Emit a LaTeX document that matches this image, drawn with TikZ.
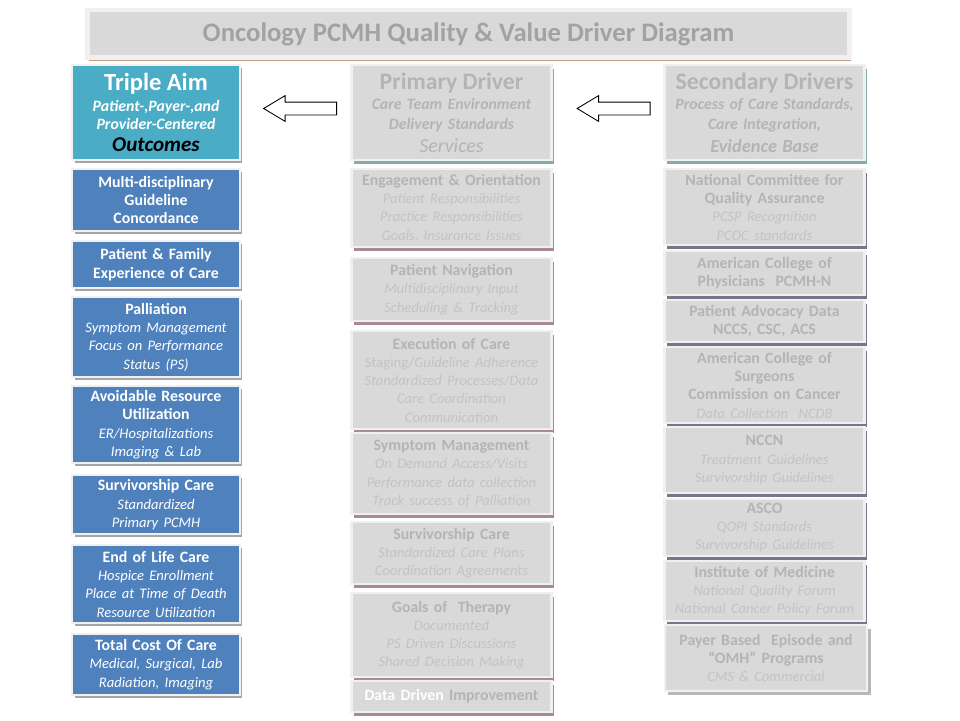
\documentclass[tikz,border=0pt]{standalone}
\usepackage{fontspec}
\setmainfont{Carlito}
\usetikzlibrary{shapes.arrows,shadows}
\definecolor{aimteal}{HTML}{4BACC6}
\definecolor{aimblue}{HTML}{4F81BD}
\definecolor{boxgrey}{HTML}{D9D9D9}
\definecolor{framegrey}{HTML}{F0F0F0}
\definecolor{txtgrey}{HTML}{B4B4B4}
\definecolor{txtlight}{HTML}{C3C3C3}
\definecolor{shgrey}{HTML}{A6A6A6}
\definecolor{shteal}{HTML}{86ABAB}
\definecolor{shrose}{HTML}{A88A90}
\definecolor{shslate}{HTML}{76768A}
\definecolor{shbrown}{HTML}{C49C84}
\newcommand{\itl}[1]{{\fontsize{8.3}{10.4}\selectfont\mdseries\itshape #1}}
\newcommand{\itg}[1]{{\fontsize{8.3}{10.4}\selectfont\mdseries\itshape\color{txtlight}#1}}

\begin{document}
\begin{tikzpicture}[x=0.02cm, y=-0.02cm,
  box/.style={draw=framegrey, line width=1.3pt, anchor=north, align=center, inner sep=1pt,
    font=\fontsize{9}{10.4}\selectfont\bfseries},
  outbox/.style={box, fill=aimblue, text=white, minimum width=3.35cm, text width=3.25cm,
    drop shadow={fill=shgrey, opacity=1, shadow xshift=0.05cm, shadow yshift=-0.06cm}},
  aimbox/.style={outbox, fill=aimteal},
  greybox/.style={box, fill=boxgrey, text=txtgrey, minimum width=4.0cm, text width=3.9cm},
  headbox/.style={greybox, minimum height=1.9cm,
    drop shadow={fill=shteal, opacity=1, shadow xshift=0.05cm, shadow yshift=-0.07cm}},
  drvbox/.style={greybox,
    drop shadow={fill=shrose, opacity=1, shadow xshift=0.05cm, shadow yshift=-0.07cm}},
  srcbox/.style={greybox,
    drop shadow={fill=shslate, opacity=1, shadow xshift=0.05cm, shadow yshift=-0.07cm}},
  blockarrow/.style={single arrow, draw=black, fill=white, line width=0.5pt, inner sep=0pt,
    shape border rotate=180, minimum height=1.46cm,
    single arrow head extend=0.13cm, single arrow tip angle=62}]
  \useasboundingbox (0,0) rectangle (960,720);
  % ------------------------------------------------------------------ title
  \node[box, fill=boxgrey, text=txtgrey!90!black, line width=2.5pt, minimum width=15.25cm, minimum height=0.95cm,
    font=\fontsize{15.2}{18}\selectfont\bfseries,
    drop shadow={fill=shbrown, opacity=1, shadow xshift=0.03cm, shadow yshift=-0.07cm}]
    (title) at (468.5,8) {Oncology PCMH Quality \& Value Driver Diagram};
  % ------------------------------------------------------------------ outcomes
  \node[aimbox, minimum height=1.9cm] (aim) at (156,64)
    {{\fontsize{14}{16}\selectfont Triple Aim}\\[1.5pt] \textit{Patient-,Payer-,and}\\ \textit{Provider-Centered}\\[2pt]
     {\fontsize{12}{13}\selectfont\itshape\color{black}Outcomes}};
  \node[outbox, minimum height=1.24cm] (mdg) at (156,168) {Multi-disciplinary\\Guideline\\Concordance};
  \node[outbox, minimum height=0.94cm] (pfe) at (156,240) {Patient \& Family\\Experience of Care};
  \node[outbox, minimum height=1.60cm] (pal) at (156,296)
    {Palliation\\\itl{Symptom Management}\\\itl{Focus on Performance}\\\itl{Status (PS)}};
  \node[outbox, minimum height=1.54cm] (aru) at (156,385)
    {Avoidable Resource\\Utilization\\\itl{ER/Hospitalizations}\\\itl{Imaging \& Lab}};
  \node[outbox, minimum height=1.18cm] (svc) at (156,474)
    {Survivorship Care\\\itl{Standardized}\\\itl{Primary PCMH}};
  \node[outbox, minimum height=1.56cm] (eol) at (156,544)
    {End of Life Care\\\itl{Hospice Enrollment}\\\itl{Place at Time of Death}\\\itl{Resource Utilization}};
  \node[outbox, minimum height=1.22cm] (tcc) at (156,633)
    {Total Cost Of Care\\\itl{Medical, Surgical, Lab}\\\itl{Radiation, Imaging}};
  % ------------------------------------------------------------------ primary drivers
  \node[headbox] (pd) at (451.5,64)
    {{\fontsize{13.5}{16}\selectfont Primary Driver}\\[1pt] \textit{Care Team Environment}\\[1pt] \textit{Delivery Standards}\\[2.5pt]
     {\fontsize{11.3}{13}\selectfont\mdseries\itshape Services}};
  \node[drvbox, minimum height=1.56cm] (eng) at (451.5,168)
    {Engagement \& Orientation\\\itg{Patient Responsibilities}\\\itg{Practice Responsibilities}\\\itg{Goals, Insurance Issues}};
  \node[drvbox, minimum height=1.26cm] (nav) at (451.5,257)
    {Patient Navigation\\\itg{Multidisciplinary Input}\\\itg{Scheduling \& Tracking}};
  \node[drvbox, minimum height=1.96cm] (exe) at (451.5,330)
    {Execution of Care\\\itg{{\upshape Staging/}Guideline Adherence}\\\itg{Standardized Processes/Data}\\\itg{Care Coordination}\\\itg{Communication}};
  \node[drvbox, minimum height=1.62cm] (sym) at (451.5,432)
    {Symptom Management\\\itg{On Demand Access/Visits}\\\itg{Performance data collection}\\\itg{Track success of Palliation}};
  \node[drvbox, minimum height=1.24cm] (scp) at (451.5,521)
    {Survivorship Care\\\itg{Standardized Care Plans}\\\itg{Coordination Agreements}};
  \node[drvbox, minimum height=1.68cm] (got) at (451.5,592)
    {Goals of\ \ Therapy\\\itg{Documented}\\\itg{PS Driven Discussions}\\\itg{Shared Decision Making}};
  \node[drvbox, minimum height=0.62cm] (ddi) at (451.5,680)
    {{\color{white}Data Driven} Improvement};
  % ------------------------------------------------------------------ secondary drivers
  \node[headbox] (sd) at (764.5,64)
    {{\fontsize{13.5}{16}\selectfont Secondary Drivers}\\[1pt] \textit{Process of Care Standards,}\\[1pt] \textit{Care Integration,}\\[2.5pt]
     {\fontsize{10.5}{13}\selectfont\itshape Evidence Base}};
  \node[srcbox, minimum height=1.52cm] (ncqa) at (764.5,168)
    {National Committee for\\Quality Assurance\\\itg{PCSP Recognition}\\\itg{PCOC standards}};
  \node[srcbox, minimum height=0.88cm] (acp) at (764.5,250)
    {American College of\\Physicians\ \ PCMH-N};
  \node[srcbox, minimum height=0.84cm] (pad) at (764.5,299)
    {Patient Advocacy Data\\NCCS, CSC, ACS};
  \node[srcbox, minimum height=1.52cm] (acs) at (764.5,346)
    {American College of\\Surgeons\\Commission on Cancer\\\itg{Data Collection\ \ NCDB}};
  \node[srcbox, minimum height=1.32cm] (nccn) at (764.5,426)
    {NCCN\\\itg{Treatment Guidelines}\\\itg{Survivorship Guidelines}};
  \node[srcbox, minimum height=1.14cm] (asco) at (764.5,498)
    {ASCO\\\itg{QOPI Standards}\\\itg{Survivorship Guidelines}};
  \node[srcbox, minimum height=1.20cm] (iom) at (764.5,560)
    {Institute of Medicine\\\itg{National Quality Forum}\\\itg{National Cancer Policy Forum}};
  \node[greybox, minimum height=1.32cm, minimum width=4.05cm,
    drop shadow={fill=shgrey, opacity=0.8, shadow xshift=0.07cm, shadow yshift=-0.08cm}] (pay) at (766,624)
    {Payer Based\ \ Episode and\\``OMH'' Programs\\\itg{CMS \& Commercial}};
  % ------------------------------------------------------------------ arrows
  \node[blockarrow] (arrA) at (305.5,108.5) {\rule{0pt}{0.24cm}};
  \node[blockarrow] (arrB) at (619,108.5) {\rule{0pt}{0.24cm}};
\end{tikzpicture}
\end{document}
